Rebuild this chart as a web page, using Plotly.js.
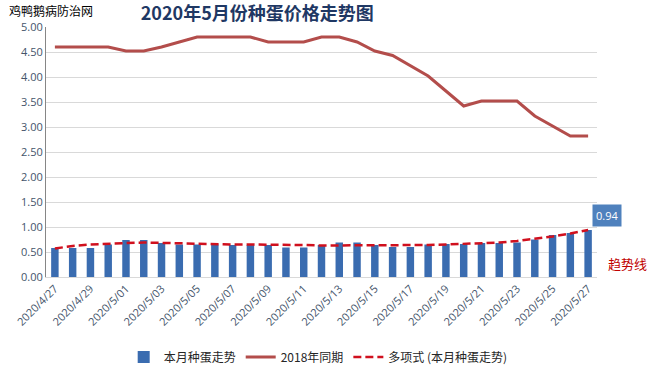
<!DOCTYPE html>
<html>
<head>
<meta charset="utf-8">
<script src="https://cdn.plot.ly/plotly-3.0.1.min.js"></script>
<style>html,body{margin:0;padding:0;background:#fff;}#chart{width:648px;height:369px;}</style>
</head>
<body>
<div id="chart"></div>
<script>
const categories = [
  "2020/4/27","2020/4/28","2020/4/29","2020/4/30",
  "2020/5/01","2020/5/02","2020/5/03","2020/5/04","2020/5/05","2020/5/06","2020/5/07","2020/5/08","2020/5/09",
  "2020/5/10","2020/5/11","2020/5/12","2020/5/13","2020/5/14","2020/5/15","2020/5/16","2020/5/17","2020/5/18",
  "2020/5/19","2020/5/20","2020/5/21","2020/5/22","2020/5/23","2020/5/24","2020/5/25","2020/5/26","2020/5/27"
];
const thisMonth = [0.58,0.58,0.58,0.65,0.74,0.74,0.68,0.65,0.65,0.65,0.64,0.64,0.64,0.59,0.59,0.64,
  0.69,0.69,0.64,0.60,0.60,0.65,0.66,0.66,0.68,0.68,0.69,0.75,0.84,0.88,0.94];
const samePeriod2018 = [4.60,4.60,4.60,4.60,4.52,4.52,4.60,4.70,4.80,4.80,4.80,4.80,4.70,4.70,4.70,4.80,
  4.80,4.70,4.52,4.43,4.22,4.02,3.72,3.42,3.52,3.52,3.52,3.22,3.02,2.82,2.82];
const trendLine = [0.57,0.62,0.65,0.67,0.68,0.69,0.68,0.67,0.66,0.65,0.65,0.65,0.65,0.64,0.64,0.63,
  0.63,0.63,0.63,0.63,0.64,0.64,0.65,0.66,0.67,0.69,0.72,0.76,0.81,0.87,0.94];
const seriesNames = ["本月种蛋走势","2018年同期","多项式 (本月种蛋走势)"];
const yTicks = [0,0.5,1,1.5,2,2.5,3,3.5,4,4.5,5];

const tickVals = categories.filter((c,i)=>i%2===0);
const lastIdx = thisMonth.length-1;

const axisFont = {family:"Open Sans, Noto Sans, sans-serif", size:11, color:"#44546a"};
const cjk = "Noto Sans CJK SC, sans-serif";

const traces = [
  {type:"bar", x:categories, y:thisMonth, name:seriesNames[0],
   marker:{color:"#3a6cb0", line:{width:0}}, hoverinfo:"skip"},
  {type:"scatter", mode:"lines", x:categories, y:samePeriod2018, name:seriesNames[1],
   line:{color:"#b34d4b", width:3}, hoverinfo:"skip"},
  {type:"scatter", mode:"lines", x:categories, y:trendLine, name:seriesNames[2],
   line:{color:"#d0101e", width:2.5, dash:"8px,4px"}, hoverinfo:"skip"}
];

const layout = {
  width:648, height:369,
  margin:{l:46, r:51, t:27, b:92, autoexpand:false},
  paper_bgcolor:"#fff", plot_bgcolor:"#fff",
  bargap:0.58,
  title:{text:"2020年5月份种蛋价格走势图", font:{family:cjk, size:18, color:"#1f3864", weight:"bold"},
         xref:"container", x:0.397, xanchor:"center", yref:"container", y:0.962, yanchor:"middle",
         automargin:false},
  xaxis:{type:"category", tickmode:"array", tickvals:tickVals, ticktext:tickVals, tickangle:-45,
         tickfont:axisFont, showgrid:false, showline:true, linecolor:"#d9d9d9", linewidth:1,
         ticks:"", zeroline:false, range:[-0.5, 30.5], automargin:false},
  yaxis:{range:[0,5], tickvals:yTicks, tickformat:".2f", tickfont:axisFont, gridcolor:"#d9d9d9",
         showline:true, linecolor:"#868686", linewidth:1, ticks:"", ticklen:0, zeroline:false,
         automargin:false},
  showlegend:true,
  legend:{orientation:"h", x:0.494, xanchor:"center", y:-0.32, yanchor:"middle",
          font:{family:cjk, size:12, color:"#262626"}, traceorder:"normal"},
  annotations:[
    {x:categories[lastIdx], y:thisMonth[lastIdx], xref:"x", yref:"y", text:thisMonth[lastIdx].toFixed(2),
     showarrow:false, xshift:19, yshift:15, bgcolor:"#4f81bd", borderpad:3,
     font:{family:"Open Sans, sans-serif", size:11, color:"#ffffff"}},
    {x:1.016, y:0.056, xref:"paper", yref:"paper", xanchor:"left", yanchor:"middle", text:"趋势线", showarrow:false,
     font:{family:cjk, size:13, color:"#c00000"}},
    {x:-0.0708, y:1.064, xref:"paper", yref:"paper", xanchor:"left", yanchor:"middle", text:"鸡鸭鹅病防治网",
     showarrow:false, font:{family:cjk, size:12, color:"#000"}}
  ]
};

Plotly.newPlot("chart", traces, layout, {displayModeBar:false, staticPlot:true});
</script>
</body>
</html>
